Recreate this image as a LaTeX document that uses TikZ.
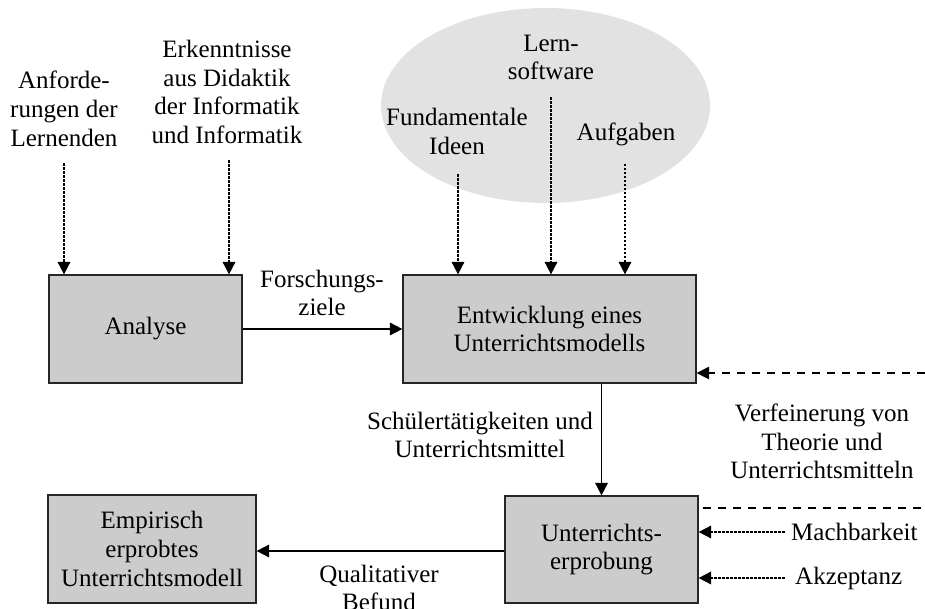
\documentclass[tikz,border=0pt]{standalone}
\usepackage{fontspec}
\setmainfont{Liberation Serif}
\usetikzlibrary{arrows.meta,shapes.geometric}
\definecolor{boxgray}{HTML}{CCCCCC}
\definecolor{poolgray}{HTML}{E2E2E2}
\begin{document}
\begin{tikzpicture}[x=1pt,y=-1pt,
  every node/.style={font=\fontsize{25}{28.75}\selectfont, align=center, inner sep=0pt},
  box/.style={draw=black!85, line width=1.2pt, fill=boxgray, minimum height=108pt},
  tip/.style={-{Triangle[length=12.5pt,width=12.5pt]}},
  flow/.style={tip, line width=1.7pt},
  dotflow/.style={tip, line width=1.7pt, dash pattern=on 2.7pt off 1.3pt},
  dashflow/.style={line width=1.3pt, dash pattern=on 8pt off 7pt}
]
\useasboundingbox (0,0) rectangle (925,609);

% idea pool behind the development step
\node[ellipse, fill=poolgray, minimum width=329pt, minimum height=195pt] (pool) at (545.5,105.5) {};

% process boxes
\node[box, minimum width=193pt] (ana) at (145.5,329) {Analyse};
\node[box, minimum width=293pt] (entw) at (549.5,329) {Entwicklung eines\\Unterrichtsmodells};
\node[box, minimum width=193pt, minimum height=107pt] (erpr) at (601.5,549.5) {Unterrichts-\\erprobung};
\node[box, minimum width=208pt] (emp) at (152,549) {Empirisch\\erprobtes\\Unterrichtsmodell};

% inputs
\node (anf) at (64,109) {Anforde-\\rungen der\\Lernenden};
\node (erk) at (227,92) {Erkenntnisse\\aus Didaktik\\der Informatik\\und Informatik};
\node (lern) at (551,57.5) {Lern-\\software};
\node (fund) at (457,131.5) {Fundamentale\\Ideen};
\node (aufg) at (626,134) {Aufgaben};

% edge labels
\node (fz) at (322,293) {Forschungs-\\ziele};
\node (st) at (480,435) {Schülertätigkeiten und\\Unterrichtsmittel};
\node (verf) at (822,441.5) {Verfeinerung von\\Theorie und\\Unterrichtsmitteln};
\node (qual) at (379,588) {Qualitativer\\Befund};
\node[anchor=west] (mach) at (791,532) {Machbarkeit};
\node[anchor=west] (akz) at (795,578) {Akzeptanz};

% dotted input arrows
\draw[dotflow, shorten <=16pt] (anf.south) -- (anf.south |- ana.north);
\draw[dotflow, shorten <=16pt] ([xshift=2pt]erk.south) -- ([xshift=2pt]erk.south |- ana.north);
\draw[dotflow, shorten <=17pt] (lern.south) -- (lern.south |- entw.north);
\draw[dotflow, shorten <=19pt] ([xshift=1pt]fund.south) -- ([xshift=1pt]fund.south |- entw.north);
\draw[dotflow, shorten <=18pt] ([xshift=-1pt]aufg.south) -- ([xshift=-1pt]aufg.south |- entw.north);

% main flow
\draw[flow] (ana.east) -- (entw.west);
\draw[flow] (entw.south -| erpr.north) -- (erpr.north);
\draw[flow] ([yshift=-1.5pt]erpr.west) -- ([yshift=-1.5pt]erpr.west -| emp.east);

% feedback on the right
\coordinate (fbR) at (925,373);
\draw[dashflow, tip] (fbR) -- (fbR -| entw.east);
\coordinate (sepL) at (703,508);
\coordinate (sepR) at (925,508);
\draw[dashflow] (sepL) -- (sepR);
\draw[dotflow, shorten <=6pt] (mach.west) -- (mach.west -| erpr.east);
\draw[dotflow, shorten <=10pt] (akz.west) -- (akz.west -| erpr.east);
\end{tikzpicture}
\end{document}
